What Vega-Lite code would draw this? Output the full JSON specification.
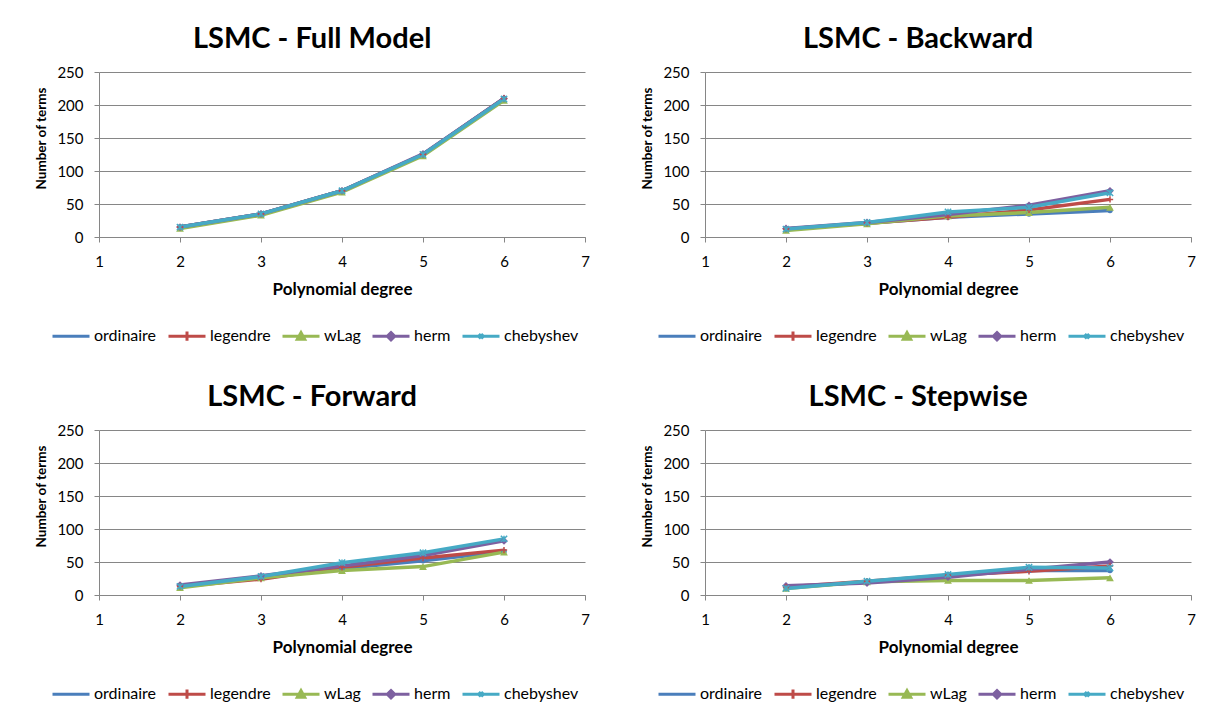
{
  "$schema": "https://vega.github.io/schema/vega-lite/v6.json",
  "background": "white",
  "padding": {"left": 34, "top": 25, "right": 5, "bottom": 5},
  "columns": 2,
  "spacing": {"row": 35, "column": 50},
  "data": {
    "values": [
      {"panel": "full", "series": "ordinaire", "degree": 2, "terms": 15},
      {"panel": "full", "series": "ordinaire", "degree": 3, "terms": 35},
      {"panel": "full", "series": "ordinaire", "degree": 4, "terms": 70},
      {"panel": "full", "series": "ordinaire", "degree": 5, "terms": 125},
      {"panel": "full", "series": "ordinaire", "degree": 6, "terms": 210},
      {"panel": "full", "series": "legendre", "degree": 2, "terms": 15},
      {"panel": "full", "series": "legendre", "degree": 3, "terms": 35},
      {"panel": "full", "series": "legendre", "degree": 4, "terms": 70},
      {"panel": "full", "series": "legendre", "degree": 5, "terms": 125},
      {"panel": "full", "series": "legendre", "degree": 6, "terms": 210},
      {"panel": "full", "series": "wLag", "degree": 2, "terms": 13},
      {"panel": "full", "series": "wLag", "degree": 3, "terms": 33},
      {"panel": "full", "series": "wLag", "degree": 4, "terms": 68},
      {"panel": "full", "series": "wLag", "degree": 5, "terms": 123},
      {"panel": "full", "series": "wLag", "degree": 6, "terms": 207},
      {"panel": "full", "series": "herm", "degree": 2, "terms": 15},
      {"panel": "full", "series": "herm", "degree": 3, "terms": 35},
      {"panel": "full", "series": "herm", "degree": 4, "terms": 70},
      {"panel": "full", "series": "herm", "degree": 5, "terms": 126},
      {"panel": "full", "series": "herm", "degree": 6, "terms": 210},
      {"panel": "full", "series": "chebyshev", "degree": 2, "terms": 15},
      {"panel": "full", "series": "chebyshev", "degree": 3, "terms": 35},
      {"panel": "full", "series": "chebyshev", "degree": 4, "terms": 70},
      {"panel": "full", "series": "chebyshev", "degree": 5, "terms": 125},
      {"panel": "full", "series": "chebyshev", "degree": 6, "terms": 209},

      {"panel": "backward", "series": "ordinaire", "degree": 2, "terms": 12},
      {"panel": "backward", "series": "ordinaire", "degree": 3, "terms": 21},
      {"panel": "backward", "series": "ordinaire", "degree": 4, "terms": 30},
      {"panel": "backward", "series": "ordinaire", "degree": 5, "terms": 35},
      {"panel": "backward", "series": "ordinaire", "degree": 6, "terms": 40},
      {"panel": "backward", "series": "legendre", "degree": 2, "terms": 12},
      {"panel": "backward", "series": "legendre", "degree": 3, "terms": 21},
      {"panel": "backward", "series": "legendre", "degree": 4, "terms": 30},
      {"panel": "backward", "series": "legendre", "degree": 5, "terms": 41},
      {"panel": "backward", "series": "legendre", "degree": 6, "terms": 57},
      {"panel": "backward", "series": "wLag", "degree": 2, "terms": 10},
      {"panel": "backward", "series": "wLag", "degree": 3, "terms": 20},
      {"panel": "backward", "series": "wLag", "degree": 4, "terms": 32},
      {"panel": "backward", "series": "wLag", "degree": 5, "terms": 37},
      {"panel": "backward", "series": "wLag", "degree": 6, "terms": 45},
      {"panel": "backward", "series": "herm", "degree": 2, "terms": 13},
      {"panel": "backward", "series": "herm", "degree": 3, "terms": 22},
      {"panel": "backward", "series": "herm", "degree": 4, "terms": 34},
      {"panel": "backward", "series": "herm", "degree": 5, "terms": 48},
      {"panel": "backward", "series": "herm", "degree": 6, "terms": 70},
      {"panel": "backward", "series": "chebyshev", "degree": 2, "terms": 12},
      {"panel": "backward", "series": "chebyshev", "degree": 3, "terms": 22},
      {"panel": "backward", "series": "chebyshev", "degree": 4, "terms": 38},
      {"panel": "backward", "series": "chebyshev", "degree": 5, "terms": 45},
      {"panel": "backward", "series": "chebyshev", "degree": 6, "terms": 67},

      {"panel": "forward", "series": "ordinaire", "degree": 2, "terms": 13},
      {"panel": "forward", "series": "ordinaire", "degree": 3, "terms": 26},
      {"panel": "forward", "series": "ordinaire", "degree": 4, "terms": 40},
      {"panel": "forward", "series": "ordinaire", "degree": 5, "terms": 52},
      {"panel": "forward", "series": "ordinaire", "degree": 6, "terms": 66},
      {"panel": "forward", "series": "legendre", "degree": 2, "terms": 13},
      {"panel": "forward", "series": "legendre", "degree": 3, "terms": 24},
      {"panel": "forward", "series": "legendre", "degree": 4, "terms": 42},
      {"panel": "forward", "series": "legendre", "degree": 5, "terms": 56},
      {"panel": "forward", "series": "legendre", "degree": 6, "terms": 68},
      {"panel": "forward", "series": "wLag", "degree": 2, "terms": 11},
      {"panel": "forward", "series": "wLag", "degree": 3, "terms": 26},
      {"panel": "forward", "series": "wLag", "degree": 4, "terms": 37},
      {"panel": "forward", "series": "wLag", "degree": 5, "terms": 43},
      {"panel": "forward", "series": "wLag", "degree": 6, "terms": 65},
      {"panel": "forward", "series": "herm", "degree": 2, "terms": 15},
      {"panel": "forward", "series": "herm", "degree": 3, "terms": 29},
      {"panel": "forward", "series": "herm", "degree": 4, "terms": 44},
      {"panel": "forward", "series": "herm", "degree": 5, "terms": 60},
      {"panel": "forward", "series": "herm", "degree": 6, "terms": 82},
      {"panel": "forward", "series": "chebyshev", "degree": 2, "terms": 13},
      {"panel": "forward", "series": "chebyshev", "degree": 3, "terms": 28},
      {"panel": "forward", "series": "chebyshev", "degree": 4, "terms": 49},
      {"panel": "forward", "series": "chebyshev", "degree": 5, "terms": 64},
      {"panel": "forward", "series": "chebyshev", "degree": 6, "terms": 85},

      {"panel": "stepwise", "series": "ordinaire", "degree": 2, "terms": 11},
      {"panel": "stepwise", "series": "ordinaire", "degree": 3, "terms": 20},
      {"panel": "stepwise", "series": "ordinaire", "degree": 4, "terms": 30},
      {"panel": "stepwise", "series": "ordinaire", "degree": 5, "terms": 37},
      {"panel": "stepwise", "series": "ordinaire", "degree": 6, "terms": 37},
      {"panel": "stepwise", "series": "legendre", "degree": 2, "terms": 12},
      {"panel": "stepwise", "series": "legendre", "degree": 3, "terms": 21},
      {"panel": "stepwise", "series": "legendre", "degree": 4, "terms": 30},
      {"panel": "stepwise", "series": "legendre", "degree": 5, "terms": 36},
      {"panel": "stepwise", "series": "legendre", "degree": 6, "terms": 44},
      {"panel": "stepwise", "series": "wLag", "degree": 2, "terms": 10},
      {"panel": "stepwise", "series": "wLag", "degree": 3, "terms": 20},
      {"panel": "stepwise", "series": "wLag", "degree": 4, "terms": 22},
      {"panel": "stepwise", "series": "wLag", "degree": 5, "terms": 22},
      {"panel": "stepwise", "series": "wLag", "degree": 6, "terms": 26},
      {"panel": "stepwise", "series": "herm", "degree": 2, "terms": 14},
      {"panel": "stepwise", "series": "herm", "degree": 3, "terms": 18},
      {"panel": "stepwise", "series": "herm", "degree": 4, "terms": 27},
      {"panel": "stepwise", "series": "herm", "degree": 5, "terms": 39},
      {"panel": "stepwise", "series": "herm", "degree": 6, "terms": 50},
      {"panel": "stepwise", "series": "chebyshev", "degree": 2, "terms": 10},
      {"panel": "stepwise", "series": "chebyshev", "degree": 3, "terms": 21},
      {"panel": "stepwise", "series": "chebyshev", "degree": 4, "terms": 31},
      {"panel": "stepwise", "series": "chebyshev", "degree": 5, "terms": 42},
      {"panel": "stepwise", "series": "chebyshev", "degree": 6, "terms": 41}
    ]
  },
  "concat": [
    {
      "title": "LSMC - Full Model",
      "width": 486, "height": 165,
      "transform": [{"filter": "datum.panel === 'full'"}],
      "encoding": {
        "x": {"field": "degree", "type": "quantitative", "scale": {"domain": [1, 7], "nice": false, "zero": false}, "axis": {"values": [1, 2, 3, 4, 5, 6, 7], "title": "Polynomial degree"}},
        "y": {"field": "terms", "type": "quantitative", "scale": {"domain": [0, 250], "nice": false}, "axis": {"values": [0, 50, 100, 150, 200, 250], "title": "Number of terms"}},
        "color": {"field": "series", "type": "nominal", "scale": {"domain": ["ordinaire", "legendre", "wLag", "herm", "chebyshev"], "range": ["#4A7EBB", "#BE4B48", "#98B954", "#7D60A0", "#46AAC5"]}, "legend": null},
        "shape": {"field": "series", "type": "nominal", "scale": {"domain": ["ordinaire", "legendre", "wLag", "herm", "chebyshev"], "range": ["circle", "M0,-1V1M-1,0H1", "triangle-up", "diamond", "M-1,-1L1,1M-1,1L1,-1M0,-1V1"]}, "legend": null}
      },
      "layer": [
        {"mark": {"type": "line", "strokeWidth": 3.5}},
        {"transform": [{"filter": "datum.series === 'wLag' || datum.series === 'herm'"}],
         "mark": {"type": "point", "filled": true, "size": 60, "opacity": 1}},
        {"transform": [{"filter": "datum.series === 'legendre' || datum.series === 'chebyshev'"}],
         "mark": {"type": "point", "filled": false, "size": 40, "strokeWidth": 1.5, "opacity": 1}},
        {"mark": {"type": "point", "filled": false, "opacity": 0, "strokeWidth": 3},
         "encoding": {
           "color": {"field": "series", "type": "nominal", "scale": {"domain": ["ordinaire", "legendre", "wLag", "herm", "chebyshev"], "range": ["#4A7EBB", "#BE4B48", "#98B954", "#7D60A0", "#46AAC5"]}, "legend": {"orient": "none", "legendX": -48, "legendY": 244, "direction": "horizontal", "title": null, "symbolSize": 1369, "symbolStrokeWidth": 3, "symbolOpacity": 1, "labelFont": "Lato", "labelFontSize": 16, "labelColor": "#000000", "labelOffset": 3, "columnPadding": 5}},
           "shape": {"field": "series", "type": "nominal", "scale": {"domain": ["ordinaire", "legendre", "wLag", "herm", "chebyshev"], "range": ["M0,-0.3L0,-0.3M0,0.3L0,0.3M-1,0H1", "M0,-0.3L0,-0.3M0,0.3L0,0.3M-1,0H1M0,-0.25V0.25", "M0,-0.3L0,-0.3M0,0.3L0,0.3M-1,0H1M-0.2,0.16L0,-0.2L0.2,0.16Z", "M0,-0.3L0,-0.3M0,0.3L0,0.3M-1,0H1M0,-0.2L0.2,0L0,0.2L-0.2,0Z", "M0,-0.3L0,-0.3M0,0.3L0,0.3M-1,0H1M-0.12,-0.12L0.12,0.12M-0.12,0.12L0.12,-0.12"]}, "legend": {"orient": "none", "legendX": -48, "legendY": 244, "direction": "horizontal", "title": null, "symbolSize": 1369, "symbolStrokeWidth": 3, "symbolOpacity": 1, "labelFont": "Lato", "labelFontSize": 16, "labelColor": "#000000", "labelOffset": 3, "columnPadding": 5}}
         }}
      ],
      "resolve": {"scale": {"shape": "independent", "color": "independent"}}
    },
    {
      "title": "LSMC - Backward",
      "width": 486, "height": 165,
      "transform": [{"filter": "datum.panel === 'backward'"}],
      "encoding": {
        "x": {"field": "degree", "type": "quantitative", "scale": {"domain": [1, 7], "nice": false, "zero": false}, "axis": {"values": [1, 2, 3, 4, 5, 6, 7], "title": "Polynomial degree"}},
        "y": {"field": "terms", "type": "quantitative", "scale": {"domain": [0, 250], "nice": false}, "axis": {"values": [0, 50, 100, 150, 200, 250], "title": "Number of terms"}},
        "color": {"field": "series", "type": "nominal", "scale": {"domain": ["ordinaire", "legendre", "wLag", "herm", "chebyshev"], "range": ["#4A7EBB", "#BE4B48", "#98B954", "#7D60A0", "#46AAC5"]}, "legend": null},
        "shape": {"field": "series", "type": "nominal", "scale": {"domain": ["ordinaire", "legendre", "wLag", "herm", "chebyshev"], "range": ["circle", "M0,-1V1M-1,0H1", "triangle-up", "diamond", "M-1,-1L1,1M-1,1L1,-1M0,-1V1"]}, "legend": null}
      },
      "layer": [
        {"mark": {"type": "line", "strokeWidth": 3.5}},
        {"transform": [{"filter": "datum.series === 'wLag' || datum.series === 'herm'"}],
         "mark": {"type": "point", "filled": true, "size": 60, "opacity": 1}},
        {"transform": [{"filter": "datum.series === 'legendre' || datum.series === 'chebyshev'"}],
         "mark": {"type": "point", "filled": false, "size": 40, "strokeWidth": 1.5, "opacity": 1}},
        {"mark": {"type": "point", "filled": false, "opacity": 0, "strokeWidth": 3},
         "encoding": {
           "color": {"field": "series", "type": "nominal", "scale": {"domain": ["ordinaire", "legendre", "wLag", "herm", "chebyshev"], "range": ["#4A7EBB", "#BE4B48", "#98B954", "#7D60A0", "#46AAC5"]}, "legend": {"orient": "none", "legendX": -48, "legendY": 244, "direction": "horizontal", "title": null, "symbolSize": 1369, "symbolStrokeWidth": 3, "symbolOpacity": 1, "labelFont": "Lato", "labelFontSize": 16, "labelColor": "#000000", "labelOffset": 3, "columnPadding": 5}},
           "shape": {"field": "series", "type": "nominal", "scale": {"domain": ["ordinaire", "legendre", "wLag", "herm", "chebyshev"], "range": ["M0,-0.3L0,-0.3M0,0.3L0,0.3M-1,0H1", "M0,-0.3L0,-0.3M0,0.3L0,0.3M-1,0H1M0,-0.25V0.25", "M0,-0.3L0,-0.3M0,0.3L0,0.3M-1,0H1M-0.2,0.16L0,-0.2L0.2,0.16Z", "M0,-0.3L0,-0.3M0,0.3L0,0.3M-1,0H1M0,-0.2L0.2,0L0,0.2L-0.2,0Z", "M0,-0.3L0,-0.3M0,0.3L0,0.3M-1,0H1M-0.12,-0.12L0.12,0.12M-0.12,0.12L0.12,-0.12"]}, "legend": {"orient": "none", "legendX": -48, "legendY": 244, "direction": "horizontal", "title": null, "symbolSize": 1369, "symbolStrokeWidth": 3, "symbolOpacity": 1, "labelFont": "Lato", "labelFontSize": 16, "labelColor": "#000000", "labelOffset": 3, "columnPadding": 5}}
         }}
      ],
      "resolve": {"scale": {"shape": "independent", "color": "independent"}}
    },
    {
      "title": "LSMC - Forward",
      "width": 486, "height": 165,
      "transform": [{"filter": "datum.panel === 'forward'"}],
      "encoding": {
        "x": {"field": "degree", "type": "quantitative", "scale": {"domain": [1, 7], "nice": false, "zero": false}, "axis": {"values": [1, 2, 3, 4, 5, 6, 7], "title": "Polynomial degree"}},
        "y": {"field": "terms", "type": "quantitative", "scale": {"domain": [0, 250], "nice": false}, "axis": {"values": [0, 50, 100, 150, 200, 250], "title": "Number  of terms"}},
        "color": {"field": "series", "type": "nominal", "scale": {"domain": ["ordinaire", "legendre", "wLag", "herm", "chebyshev"], "range": ["#4A7EBB", "#BE4B48", "#98B954", "#7D60A0", "#46AAC5"]}, "legend": null},
        "shape": {"field": "series", "type": "nominal", "scale": {"domain": ["ordinaire", "legendre", "wLag", "herm", "chebyshev"], "range": ["circle", "M0,-1V1M-1,0H1", "triangle-up", "diamond", "M-1,-1L1,1M-1,1L1,-1M0,-1V1"]}, "legend": null}
      },
      "layer": [
        {"mark": {"type": "line", "strokeWidth": 3.5}},
        {"transform": [{"filter": "datum.series === 'wLag' || datum.series === 'herm'"}],
         "mark": {"type": "point", "filled": true, "size": 60, "opacity": 1}},
        {"transform": [{"filter": "datum.series === 'legendre' || datum.series === 'chebyshev'"}],
         "mark": {"type": "point", "filled": false, "size": 40, "strokeWidth": 1.5, "opacity": 1}},
        {"mark": {"type": "point", "filled": false, "opacity": 0, "strokeWidth": 3},
         "encoding": {
           "color": {"field": "series", "type": "nominal", "scale": {"domain": ["ordinaire", "legendre", "wLag", "herm", "chebyshev"], "range": ["#4A7EBB", "#BE4B48", "#98B954", "#7D60A0", "#46AAC5"]}, "legend": {"orient": "none", "legendX": -48, "legendY": 244, "direction": "horizontal", "title": null, "symbolSize": 1369, "symbolStrokeWidth": 3, "symbolOpacity": 1, "labelFont": "Lato", "labelFontSize": 16, "labelColor": "#000000", "labelOffset": 3, "columnPadding": 5}},
           "shape": {"field": "series", "type": "nominal", "scale": {"domain": ["ordinaire", "legendre", "wLag", "herm", "chebyshev"], "range": ["M0,-0.3L0,-0.3M0,0.3L0,0.3M-1,0H1", "M0,-0.3L0,-0.3M0,0.3L0,0.3M-1,0H1M0,-0.25V0.25", "M0,-0.3L0,-0.3M0,0.3L0,0.3M-1,0H1M-0.2,0.16L0,-0.2L0.2,0.16Z", "M0,-0.3L0,-0.3M0,0.3L0,0.3M-1,0H1M0,-0.2L0.2,0L0,0.2L-0.2,0Z", "M0,-0.3L0,-0.3M0,0.3L0,0.3M-1,0H1M-0.12,-0.12L0.12,0.12M-0.12,0.12L0.12,-0.12"]}, "legend": {"orient": "none", "legendX": -48, "legendY": 244, "direction": "horizontal", "title": null, "symbolSize": 1369, "symbolStrokeWidth": 3, "symbolOpacity": 1, "labelFont": "Lato", "labelFontSize": 16, "labelColor": "#000000", "labelOffset": 3, "columnPadding": 5}}
         }}
      ],
      "resolve": {"scale": {"shape": "independent", "color": "independent"}}
    },
    {
      "title": "LSMC - Stepwise",
      "width": 486, "height": 165,
      "transform": [{"filter": "datum.panel === 'stepwise'"}],
      "encoding": {
        "x": {"field": "degree", "type": "quantitative", "scale": {"domain": [1, 7], "nice": false, "zero": false}, "axis": {"values": [1, 2, 3, 4, 5, 6, 7], "title": "Polynomial degree"}},
        "y": {"field": "terms", "type": "quantitative", "scale": {"domain": [0, 250], "nice": false}, "axis": {"values": [0, 50, 100, 150, 200, 250], "title": "Number of terms"}},
        "color": {"field": "series", "type": "nominal", "scale": {"domain": ["ordinaire", "legendre", "wLag", "herm", "chebyshev"], "range": ["#4A7EBB", "#BE4B48", "#98B954", "#7D60A0", "#46AAC5"]}, "legend": null},
        "shape": {"field": "series", "type": "nominal", "scale": {"domain": ["ordinaire", "legendre", "wLag", "herm", "chebyshev"], "range": ["circle", "M0,-1V1M-1,0H1", "triangle-up", "diamond", "M-1,-1L1,1M-1,1L1,-1M0,-1V1"]}, "legend": null}
      },
      "layer": [
        {"mark": {"type": "line", "strokeWidth": 3.5}},
        {"transform": [{"filter": "datum.series === 'wLag' || datum.series === 'herm'"}],
         "mark": {"type": "point", "filled": true, "size": 60, "opacity": 1}},
        {"transform": [{"filter": "datum.series === 'legendre' || datum.series === 'chebyshev'"}],
         "mark": {"type": "point", "filled": false, "size": 40, "strokeWidth": 1.5, "opacity": 1}},
        {"mark": {"type": "point", "filled": false, "opacity": 0, "strokeWidth": 3},
         "encoding": {
           "color": {"field": "series", "type": "nominal", "scale": {"domain": ["ordinaire", "legendre", "wLag", "herm", "chebyshev"], "range": ["#4A7EBB", "#BE4B48", "#98B954", "#7D60A0", "#46AAC5"]}, "legend": {"orient": "none", "legendX": -48, "legendY": 244, "direction": "horizontal", "title": null, "symbolSize": 1369, "symbolStrokeWidth": 3, "symbolOpacity": 1, "labelFont": "Lato", "labelFontSize": 16, "labelColor": "#000000", "labelOffset": 3, "columnPadding": 5}},
           "shape": {"field": "series", "type": "nominal", "scale": {"domain": ["ordinaire", "legendre", "wLag", "herm", "chebyshev"], "range": ["M0,-0.3L0,-0.3M0,0.3L0,0.3M-1,0H1", "M0,-0.3L0,-0.3M0,0.3L0,0.3M-1,0H1M0,-0.25V0.25", "M0,-0.3L0,-0.3M0,0.3L0,0.3M-1,0H1M-0.2,0.16L0,-0.2L0.2,0.16Z", "M0,-0.3L0,-0.3M0,0.3L0,0.3M-1,0H1M0,-0.2L0.2,0L0,0.2L-0.2,0Z", "M0,-0.3L0,-0.3M0,0.3L0,0.3M-1,0H1M-0.12,-0.12L0.12,0.12M-0.12,0.12L0.12,-0.12"]}, "legend": {"orient": "none", "legendX": -48, "legendY": 244, "direction": "horizontal", "title": null, "symbolSize": 1369, "symbolStrokeWidth": 3, "symbolOpacity": 1, "labelFont": "Lato", "labelFontSize": 16, "labelColor": "#000000", "labelOffset": 3, "columnPadding": 5}}
         }}
      ],
      "resolve": {"scale": {"shape": "independent", "color": "independent"}}
    }
  ],
  "resolve": {"scale": {"color": "independent", "shape": "independent"}, "legend": {"color": "independent", "shape": "independent"}},
  "config": {
    "font": "Lato",
    "view": {"stroke": null},
    "title": {"font": "Lato", "fontSize": 29, "fontWeight": "bold", "color": "#000000", "anchor": "middle", "frame": "bounds", "offset": 11},
    "axis": {
      "labelFont": "Lato", "labelFontSize": 15, "labelColor": "#000000",
      "titleFont": "Lato", "titleFontWeight": "bold", "titleColor": "#000000",
      "domainColor": "#868686", "tickColor": "#868686", "gridColor": "#868686", "gridOpacity": 1,
      "tickSize": 5, "domainWidth": 1, "tickWidth": 1, "gridWidth": 1
    },
    "axisX": {"grid": false, "labelPadding": 12, "titlePadding": 12, "labelFlush": false, "titleFontSize": 17},
    "axisY": {"grid": true, "labelPadding": 11, "titlePadding": 8, "labelFlush": false, "titleFontSize": 13.5, "titleY": 66}
  }
}
